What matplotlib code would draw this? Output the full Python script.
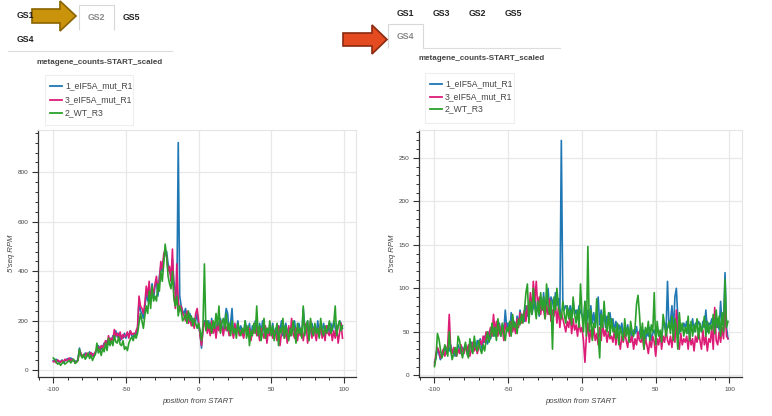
import numpy as np
import matplotlib
matplotlib.use("Agg")
import matplotlib.pyplot as plt
from matplotlib.patches import Polygon, Rectangle
from matplotlib.ticker import MultipleLocator

plt.rcParams['font.family'] = ['Liberation Sans', 'DejaVu Sans']
plt.rcParams['axes.unicode_minus'] = False

# positions relative to the start codon
position = list(range(-100, 100))

labels = ['1_eIF5A_mut_R1', '3_eIF5A_mut_R1', '2_WT_R3']
colors = ['#1f77b4', '#dd1c77', '#2ca02c']

# GS2 panel (left)
gs2_mut1 = [40, 35, 45, 38, 33, 36, 42, 30, 38, 44,
            48, 42, 50, 46, 40, 38, 35, 45, 90, 65,
            60, 55, 70, 65, 58, 75, 60, 68, 55, 72,
            80, 100, 90, 85, 95, 110, 100, 120, 105, 130,
            115, 140, 125, 160, 135, 150, 120, 140, 130, 150,
            130, 150, 140, 160, 140, 135, 150, 145, 170, 280,
            240, 230, 210, 250, 320, 280, 330, 300, 350, 290,
            340, 360, 300, 380, 420, 400, 450, 470, 480, 430,
            400, 380, 450, 360, 320, 280, 920, 300, 260, 240,
            230, 250, 210, 200, 230, 190, 210, 180, 200, 230,
            180, 150, 90, 170, 200, 190, 170, 200, 150, 210,
            160, 190, 140, 200, 170, 210, 180, 150, 200, 250,
            230, 150, 190, 250, 140, 170, 160, 200, 150, 180,
            160, 140, 200, 170, 150, 190, 130, 180, 160, 200,
            170, 140, 190, 150, 200, 160, 130, 170, 150, 180,
            150, 190, 140, 170, 130, 180, 160, 200, 140, 170,
            190, 150, 170, 140, 180, 160, 200, 150, 170, 190,
            160, 140, 250, 180, 150, 200, 130, 170, 190, 160,
            180, 150, 200, 140, 170, 160, 190, 150, 170, 180,
            150, 190, 160, 200, 170, 150, 180, 200, 190, 170]
gs2_mut3 = [35, 40, 30, 42, 38, 32, 40, 35, 45, 40,
            42, 50, 38, 45, 40, 30, 35, 40, 80, 70,
            55, 62, 58, 70, 60, 65, 72, 58, 66, 75,
            85, 95, 80, 100, 90, 105, 120, 100, 140, 115,
            130, 120, 165, 140, 150, 130, 155, 125, 145, 135,
            140, 155, 130, 160, 145, 150, 140, 160, 175, 300,
            260, 250, 230, 270, 340, 300, 360, 280, 330, 310,
            350, 380, 320, 360, 440, 410, 470, 490, 460, 400,
            420, 360, 490, 300, 250, 430, 280, 240, 260, 230,
            220, 200, 240, 190, 210, 180, 200, 170, 230, 250,
            200, 140, 100, 160, 190, 200, 150, 180, 140, 200,
            150, 180, 130, 190, 160, 200, 170, 140, 190, 160,
            180, 140, 170, 160, 130, 190, 150, 170, 140, 160,
            150, 130, 180, 160, 140, 170, 120, 160, 150, 190,
            140, 160, 120, 170, 150, 130, 180, 110, 160, 140,
            170, 130, 160, 150, 120, 180, 100, 150, 170, 130,
            160, 110, 180, 140, 210, 150, 130, 170, 120, 160,
            140, 170, 120, 160, 190, 110, 150, 200, 130, 170,
            150, 120, 170, 140, 190, 130, 160, 120, 180, 150,
            140, 170, 120, 160, 130, 180, 110, 150, 190, 130]
gs2_wt = [50, 45, 35, 25, 30, 20, 28, 35, 25, 30,
          35, 40, 30, 38, 45, 28, 32, 40, 85, 60,
          50, 65, 45, 55, 70, 48, 60, 40, 55, 65,
          110, 70, 85, 60, 90, 75, 110, 80, 130, 100,
          120, 100, 140, 115, 110, 135, 105, 100, 120, 85,
          95, 80, 110, 125, 135, 120, 145, 130, 150, 190,
          230, 200, 170, 220, 260, 230, 320, 250, 340, 280,
          300, 280, 350, 320, 400, 360, 430, 510, 460, 380,
          350, 330, 400, 290, 260, 300, 220, 260, 240, 200,
          210, 230, 190, 240, 200, 220, 180, 210, 190, 170,
          190, 160, 120, 180, 430, 160, 200, 170, 190, 150,
          200, 170, 230, 180, 260, 150, 190, 210, 170, 230,
          160, 190, 140, 200, 150, 170, 130, 190, 160, 140,
          170, 150, 200, 130, 180, 100, 160, 140, 190, 150,
          260, 140, 180, 120, 160, 210, 130, 170, 150, 200,
          140, 180, 120, 160, 190, 100, 170, 150, 210, 130,
          180, 150, 120, 170, 140, 200, 160, 110, 190, 150,
          170, 130, 260, 140, 180, 200, 120, 210, 160, 140,
          190, 150, 170, 130, 210, 160, 140, 180, 150, 170,
          200, 150, 170, 190, 260, 140, 180, 200, 160, 180]

# GS4 panel (right)
gs4_mut1 = [15, 20, 30, 25, 18, 22, 28, 32, 25, 30,
            28, 35, 25, 30, 22, 28, 35, 30, 25, 32,
            28, 35, 30, 25, 32, 38, 28, 35, 30, 40,
            35, 42, 30, 38, 45, 40, 36, 50, 42, 48,
            55, 45, 52, 48, 60, 45, 58, 50, 75, 55,
            60, 48, 72, 55, 62, 50, 68, 58, 75, 65,
            70, 62, 80, 68, 75, 85, 70, 78, 90, 72,
            80, 68, 88, 75, 95, 70, 82, 100, 78, 90,
            85, 75, 95, 80, 88, 70, 270, 85, 75, 80,
            78, 72, 80, 68, 85, 70, 75, 65, 80, 72,
            70, 60, 85, 55, 75, 65, 80, 60, 72, 55,
            68, 90, 58, 75, 62, 70, 55, 68, 60, 72,
            55, 65, 50, 62, 48, 58, 52, 60, 45, 55,
            50, 58, 45, 55, 40, 52, 48, 56, 42, 50,
            55, 45, 52, 38, 50, 45, 55, 40, 48, 52,
            45, 55, 48, 50, 42, 58, 60, 50, 108, 55,
            62, 80, 50, 90, 100, 65, 48, 58, 52, 60,
            55, 62, 48, 58, 52, 65, 50, 60, 55, 62,
            58, 50, 62, 55, 75, 50, 60, 58, 65, 55,
            60, 55, 65, 52, 85, 58, 62, 118, 55, 42]
gs4_mut3 = [12, 25, 32, 28, 20, 25, 30, 22, 28, 35,
            70, 30, 25, 32, 28, 22, 30, 25, 35, 28,
            25, 32, 28, 35, 22, 30, 38, 28, 33, 25,
            32, 40, 35, 45, 38, 50, 42, 48, 55, 45,
            70, 50, 62, 45, 58, 48, 55, 40, 60, 52,
            55, 45, 62, 50, 58, 48, 65, 55, 72, 60,
            68, 75, 62, 80, 70, 95, 72, 108, 85, 108,
            78, 90, 70, 85, 75, 65, 80, 70, 88, 62,
            75, 68, 82, 60, 78, 55, 72, 65, 58, 50,
            62, 55, 70, 48, 65, 52, 58, 45, 62, 50,
            55, 40, 15, 45, 60, 38, 52, 42, 55, 40,
            48, 35, 55, 40, 60, 45, 52, 38, 50, 42,
            45, 38, 52, 35, 48, 42, 30, 45, 38, 50,
            40, 32, 48, 38, 45, 30, 42, 35, 50, 40,
            38, 45, 30, 42, 35, 25, 40, 32, 45, 38,
            22, 42, 35, 48, 30, 45, 38, 52, 40, 35,
            45, 32, 50, 38, 75, 40, 30, 48, 35, 42,
            38, 45, 30, 48, 35, 42, 28, 45, 38, 50,
            40, 30, 52, 35, 45, 28, 42, 38, 55, 30,
            78, 40, 35, 50, 38, 55, 42, 80, 45, 42]
gs4_wt = [10, 20, 48, 42, 30, 20, 25, 35, 30, 22,
          50, 28, 18, 25, 32, 22, 45, 40, 28, 20,
          30, 38, 25, 20, 42, 30, 25, 45, 32, 28,
          40, 30, 25, 35, 28, 40, 50, 38, 45, 60,
          45, 55, 40, 65, 50, 45, 60, 48, 40, 55,
          50, 62, 45, 70, 55, 60, 48, 65, 58, 70,
          60, 75, 95, 105, 60, 85, 70, 100, 78, 65,
          85, 70, 95, 75, 90, 65, 105, 80, 70, 85,
          30, 90, 75, 100, 80, 70, 65, 85, 70, 60,
          80, 65, 75, 58, 90, 70, 60, 75, 55, 105,
          70, 50, 85, 45, 148, 50, 75, 40, 60, 55,
          88, 45, 20, 70, 55, 85, 60, 50, 72, 45,
          65, 50, 55, 42, 60, 35, 55, 48, 40, 65,
          45, 55, 38, 62, 50, 45, 55, 82, 92, 70,
          42, 60, 30, 55, 48, 62, 40, 58, 50, 95,
          35, 62, 45, 52, 38, 70, 58, 45, 55, 62,
          48, 68, 40, 65, 55, 30, 72, 50, 60, 45,
          55, 48, 68, 40, 62, 45, 58, 50, 65, 42,
          60, 50, 55, 68, 45, 62, 48, 58, 52, 70,
          48, 75, 55, 68, 45, 72, 50, 110, 55, 62]

W, H = 772, 416
fig = plt.figure(figsize=(W / 100, H / 100), dpi=100)


def px_rect(x0, y0, x1, y1):
    return [x0 / W, 1 - y1 / H, (x1 - x0) / W, (y1 - y0) / H]


def style_axes(ax, ylim, ymajor, yminor):
    ax.set_xlim(-110.3, 108.3)
    ax.set_ylim(*ylim)
    ax.xaxis.set_major_locator(MultipleLocator(50))
    ax.xaxis.set_minor_locator(MultipleLocator(10))
    ax.yaxis.set_major_locator(MultipleLocator(ymajor))
    ax.yaxis.set_minor_locator(MultipleLocator(yminor))
    ax.grid(True, which='major', color='#e8e8e8', lw=0.9)
    ax.set_axisbelow(True)
    for s in ['top', 'right']:
        ax.spines[s].set_color('#e5e5e5')
        ax.spines[s].set_linewidth(0.8)
    for s in ['left', 'bottom']:
        ax.spines[s].set_color('#333333')
        ax.spines[s].set_linewidth(0.9)
    ax.tick_params(which='major', direction='out', length=4, width=0.8,
                   color='#333333', labelsize=4.6, labelcolor='#444444', pad=3)
    ax.tick_params(which='minor', direction='out', length=2.5, width=0.7,
                   color='#333333')
    ax.set_xlabel('position from START', fontsize=5.6, style='italic',
                  color='#444444', labelpad=4)
    ax.set_ylabel("5'seq RPM", fontsize=5.6, style='italic',
                  color='#444444', labelpad=2)


ax1 = fig.add_axes(px_rect(38.3, 130, 356, 377.3))
for vals, lab, c in zip([gs2_mut1, gs2_mut3, gs2_wt], labels, colors):
    ax1.plot(position, vals, color=c, lw=1.2, label=lab)
style_axes(ax1, (-28, 971), 200, 40)

ax2 = fig.add_axes(px_rect(419.3, 130, 741.7, 377.3))
for vals, lab, c in zip([gs4_mut1, gs4_mut3, gs4_wt], labels, colors):
    ax2.plot(position, vals, color=c, lw=1.2, label=lab)
style_axes(ax2, (-2.3, 282), 50, 10)

# overlay in pixel coordinates for the tab headers, titles, legends and arrows
ov = fig.add_axes([0, 0, 1, 1])
ov.set_xlim(0, W)
ov.set_ylim(H, 0)
ov.axis('off')
ov.patch.set_alpha(0)

tab_kw = dict(fontsize=6.3, fontweight='bold', ha='center', va='center')
# left tab header
ov.text(25, 16, 'GS1', color='#222222', **tab_kw)
ov.add_patch(Polygon([[79, 30], [79, 5], [114, 5], [114, 30]], closed=False,
                     fill=False, edgecolor='#d8d8d8', lw=0.8))
ov.text(96.5, 17, 'GS2', color='#888888', **tab_kw)
ov.text(131.5, 17, 'GS5', color='#222222', **tab_kw)
ov.text(25, 40, 'GS4', color='#222222', **tab_kw)
ov.plot([8, 172], [51, 51], color='#dddddd', lw=0.8)

# right tab header
for name, x in zip(['GS1', 'GS3', 'GS2', 'GS5'], [405.5, 441.5, 477.5, 513.3]):
    ov.text(x, 13, name, color='#222222', **tab_kw)
ov.add_patch(Polygon([[388, 48], [388, 24], [423, 24], [423, 48]], closed=False,
                     fill=False, edgecolor='#d8d8d8', lw=0.8))
ov.text(405.5, 36.5, 'GS4', color='#888888', **tab_kw)
ov.plot([423, 560], [48, 48], color='#dddddd', lw=0.8)

# plot titles
ov.text(100, 62, 'metagene_counts-START_scaled', fontsize=5.8, fontweight='bold',
        color='#444444', ha='center', va='center')
ov.text(481.5, 59, 'metagene_counts-START_scaled', fontsize=5.8, fontweight='bold',
        color='#444444', ha='center', va='center')


def legend_box(x0, y0, x1, y1, rows):
    ov.add_patch(Rectangle((x0, y0), x1 - x0, y1 - y0, fill=True, facecolor='white',
                           edgecolor='#eeeeee', lw=0.8))
    for (lab, c), y in zip(zip(labels, colors), rows):
        ov.plot([x0 + 5, x0 + 17], [y, y], color=c, lw=1.3)
        ov.text(x0 + 20, y, lab, fontsize=6.2, color='#444444', va='center', ha='left')


legend_box(45, 75, 133, 125, [86, 100, 113])
legend_box(425, 73, 514, 123, [84, 97, 109])

# highlight arrows
gold = [[32, 9], [60, 9], [60, 1], [76, 16], [60, 31], [60, 23], [32, 23]]
ov.add_patch(Polygon(gold, closed=True, facecolor='#c9930b', edgecolor='#8a6200', lw=1.2))
red = [[343, 33], [372, 33], [372, 25], [387, 39.5], [372, 54], [372, 46], [343, 46]]
ov.add_patch(Polygon(red, closed=True, facecolor='#e44b20', edgecolor='#8b2a10', lw=1.2))

fig.savefig('out.png', dpi=100)
